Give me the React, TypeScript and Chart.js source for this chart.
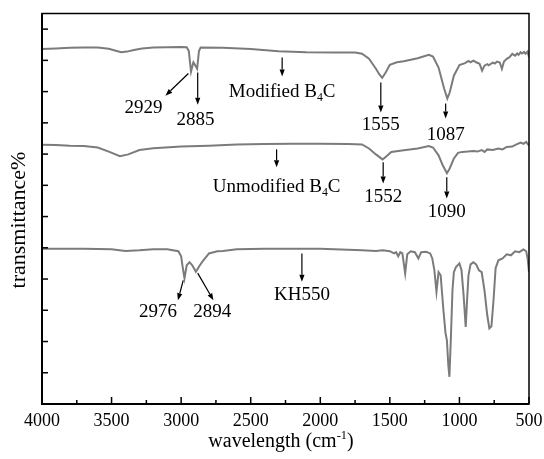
import React, { useEffect, useRef } from 'react';
import { Chart, registerables } from 'chart.js';

Chart.register(...registerables);

// ---------------- data ----------------
const modifiedWavenumber = [
  4000, 3900, 3800, 3700, 3600, 3520, 3470, 3430, 3390, 3340, 3280, 3200, 3100, 3000, 2960, 2945,
  2929, 2912, 2900, 2885, 2872, 2860, 2700, 2500, 2300, 2100, 1900, 1750, 1700, 1650, 1600, 1575,
  1555, 1530, 1500, 1450, 1400, 1300, 1220, 1190, 1150, 1110, 1087, 1070, 1040, 1000, 960, 935,
  920, 900, 880, 855, 837, 820, 800, 790, 760, 745, 730, 710, 695, 680, 660, 640,
  620, 600, 585, 575, 560, 550, 535, 525, 510, 500,
];
const modifiedValues = [
  11.36, 11.38, 11.4, 11.41, 11.41, 11.37, 11.31, 11.26, 11.28, 11.33, 11.38, 11.41, 11.42, 11.43, 11.42, 11.3,
  10.64, 10.94, 10.85, 10.73, 11.3, 11.41, 11.4, 11.36, 11.29, 11.26, 11.25, 11.25, 11.21, 11.05, 10.73, 10.55,
  10.44, 10.61, 10.86, 10.94, 10.97, 11.07, 11.18, 11.12, 10.77, 10.1, 9.78, 9.97, 10.51, 10.85, 10.91, 10.98,
  10.94, 10.99, 10.94, 10.89, 10.67, 10.83, 10.88, 10.84, 10.93, 10.9, 10.96, 10.93, 10.73, 10.96, 11.05, 11.1,
  11.21, 11.15, 11.22, 11.18, 11.26, 11.22, 11.27, 11.21, 11.28, 11.1,
];

const unmodifiedWavenumber = [
  4000, 3900, 3800, 3700, 3600, 3520, 3440, 3380, 3300, 3200, 3000, 2800, 2600, 2400, 2200, 2000,
  1800, 1700, 1650, 1600, 1552, 1520, 1490, 1400, 1300, 1220, 1190, 1150, 1120, 1090, 1070, 1040,
  1010, 980, 940, 900, 870, 840, 820, 800, 760, 720, 690, 660, 620, 590, 560, 540,
  520, 500,
];
const unmodifiedValues = [
  8.3, 8.29, 8.27, 8.26, 8.21, 8.08, 7.93, 7.99, 8.13, 8.19, 8.24, 8.27, 8.31, 8.32, 8.33, 8.33,
  8.32, 8.31, 8.18, 7.99, 7.83, 7.95, 8.07, 8.12, 8.18, 8.26, 8.21, 7.96, 7.64, 7.39, 7.54, 7.86,
  8.04, 8.07, 8.08, 8.1, 8.08, 8.13, 8.07, 8.15, 8.13, 8.18, 8.15, 8.23, 8.24, 8.31, 8.37, 8.33,
  8.39, 8.27,
];

const kh550Wavenumber = [
  4000, 3900, 3700, 3500, 3400, 3300, 3200, 3100, 3020, 3000, 2990, 2976, 2960, 2940, 2920, 2894,
  2870, 2850, 2800, 2740, 2700, 2600, 2400, 2200, 2000, 1800, 1700, 1600, 1550, 1500, 1470, 1455,
  1440, 1425, 1410, 1390, 1375, 1350, 1320, 1295, 1275, 1240, 1210, 1195, 1180, 1165, 1150, 1135,
  1115, 1100, 1090, 1080, 1072, 1062, 1050, 1040, 1025, 1000, 985, 970, 955, 945, 935, 920,
  900, 880, 860, 840, 820, 800, 785, 770, 755, 740, 720, 690, 660, 630, 600, 570,
  540, 520, 510, 500,
];
const kh550Values = [
  4.97, 4.97, 4.97, 4.95, 4.9, 4.92, 4.95, 4.95, 4.89, 4.73, 4.41, 4.02, 4.44, 4.54, 4.44, 4.23,
  4.41, 4.54, 4.82, 4.89, 4.9, 4.95, 4.97, 4.97, 4.97, 4.94, 4.92, 4.9, 4.92, 4.89, 4.82, 4.86,
  4.73, 4.86, 4.82, 4.18, 4.79, 4.89, 4.86, 4.66, 4.86, 4.87, 4.82, 4.66, 4.28, 3.59, 4.22, 4.12,
  3.0, 2.27, 2.04, 1.25, 0.87, 2.04, 3.64, 4.22, 4.38, 4.5, 4.28, 3.48, 2.47, 3.32, 4.12, 4.47,
  4.54, 4.47, 4.28, 4.22, 3.64, 2.84, 2.42, 2.49, 3.32, 4.35, 4.6, 4.66, 4.79, 4.76, 4.89, 4.86,
  4.95, 4.89, 4.66, 4.22,
];

const xTickLabels = ['4000', '3500', '3000', '2500', '2000', '1500', '1000', '500'];
const xMinorTicks = [3750, 3250, 2750, 2250, 1750, 1250, 750];
const yTickValues = [1, 2, 3, 4, 5, 6, 7, 8, 9, 10, 11, 12];

// annotation texts anchored in data coordinates [wavenumber, value]
const noteLabels = [
  { text: '2929', at: [3270, 9.52] },
  { text: '2885', at: [2896, 9.14] },
  { text: 'Modified B', sub: '4', tail: 'C', at: [2274, 10.03] },
  { text: '1555', at: [1565, 8.98] },
  { text: '1087', at: [1099, 8.66] },
  { text: 'Unmodified B', sub: '4', tail: 'C', at: [2314, 7.0] },
  { text: '1552', at: [1548, 6.68] },
  { text: '1090', at: [1091, 6.2] },
  { text: '2976', at: [3167, 3.0] },
  { text: '2894', at: [2776, 3.0] },
  { text: 'KH550', at: [2132, 3.55] },
];
const noteArrows = [
  { from: [2948, 10.58], to: [3113, 9.87] },
  { from: [2881, 10.61], to: [2881, 9.58] },
  { from: [2274, 11.09], to: [2274, 10.48] },
  { from: [1565, 10.29], to: [1565, 9.33] },
  { from: [1099, 9.62], to: [1099, 9.14] },
  { from: [2314, 8.15], to: [2314, 7.58] },
  { from: [1548, 7.74], to: [1548, 7.06] },
  { from: [1091, 7.26], to: [1091, 6.58] },
  { from: [2985, 3.96], to: [3023, 3.32] },
  { from: [2881, 4.19], to: [2768, 3.32] },
  { from: [2132, 4.82], to: [2132, 3.91] },
];

const FONT = '"Liberation Serif", "Times New Roman", serif';

const toPoints = (xs: number[], ys: number[]) => xs.map((x, i) => ({ x, y: ys[i] }));

function drawRich(ctx: CanvasRenderingContext2D, x: number, y: number, size: number, text: string, sub?: string, tail?: string, sup?: boolean) {
  ctx.font = `${size}px ${FONT}`;
  const w1 = ctx.measureText(text).width;
  let w2 = 0;
  let w3 = 0;
  const small = size * 0.62;
  if (sub) {
    ctx.font = `${small}px ${FONT}`;
    w2 = ctx.measureText(sub).width;
  }
  if (tail) {
    ctx.font = `${size}px ${FONT}`;
    w3 = ctx.measureText(tail).width;
  }
  let cx = x - (w1 + w2 + w3) / 2;
  ctx.textAlign = 'left';
  ctx.textBaseline = 'alphabetic';
  ctx.font = `${size}px ${FONT}`;
  ctx.fillText(text, cx, y);
  cx += w1;
  if (sub) {
    ctx.font = `${small}px ${FONT}`;
    ctx.fillText(sub, cx, sup ? y - size * 0.38 : y + size * 0.2);
    cx += w2;
  }
  if (tail) {
    ctx.font = `${size}px ${FONT}`;
    ctx.fillText(tail, cx, y);
  }
}

const decorPlugin = {
  id: 'decor',
  afterDatasetsDraw(chart: any) {
    const { ctx, chartArea: a, scales } = chart;
    const xs = scales.x;
    const ys = scales.y;
    ctx.save();
    ctx.strokeStyle = '#000';
    ctx.fillStyle = '#000';
    // frame
    ctx.lineWidth = 1.5;
    ctx.strokeRect(a.left, a.top, a.right - a.left, a.bottom - a.top);
    ctx.lineWidth = 2;
    ctx.beginPath();
    ctx.moveTo(a.left, a.top);
    ctx.lineTo(a.left, a.bottom);
    ctx.lineTo(a.right, a.bottom);
    ctx.stroke();
    // x ticks (inward)
    ctx.lineWidth = 1.5;
    xTickLabels.forEach((t) => {
      const px = xs.getPixelForValue(Number(t));
      ctx.beginPath();
      ctx.moveTo(px, a.bottom);
      ctx.lineTo(px, a.bottom - 7);
      ctx.stroke();
    });
    xMinorTicks.forEach((v) => {
      const px = xs.getPixelForValue(v);
      ctx.beginPath();
      ctx.moveTo(px, a.bottom);
      ctx.lineTo(px, a.bottom - 4);
      ctx.stroke();
    });
    yTickValues.forEach((v) => {
      const py = ys.getPixelForValue(v);
      ctx.beginPath();
      ctx.moveTo(a.left, py);
      ctx.lineTo(a.left + 6, py);
      ctx.stroke();
    });
    // arrows
    ctx.lineWidth = 1.2;
    noteArrows.forEach(({ from, to }) => {
      const x1 = xs.getPixelForValue(from[0]);
      const y1 = ys.getPixelForValue(from[1]);
      const x2 = xs.getPixelForValue(to[0]);
      const y2 = ys.getPixelForValue(to[1]);
      const ang = Math.atan2(y2 - y1, x2 - x1);
      const hl = 7;
      const hw = 2.6;
      const bx = x2 - hl * Math.cos(ang);
      const by = y2 - hl * Math.sin(ang);
      ctx.beginPath();
      ctx.moveTo(x1, y1);
      ctx.lineTo(bx, by);
      ctx.stroke();
      ctx.beginPath();
      ctx.moveTo(x2, y2);
      ctx.lineTo(bx + hw * Math.sin(ang), by - hw * Math.cos(ang));
      ctx.lineTo(bx - hw * Math.sin(ang), by + hw * Math.cos(ang));
      ctx.closePath();
      ctx.fill();
    });
    // labels
    noteLabels.forEach((n: any) => {
      const px = xs.getPixelForValue(n.at[0]);
      const py = ys.getPixelForValue(n.at[1]);
      drawRich(ctx, px, py + 6.5, 19, n.text, n.sub, n.tail);
    });
    // x title
    drawRich(ctx, 281, 447, 20, 'wavelength (cm', '-1', ')', true);
    // y title
    ctx.save();
    ctx.translate(19, 220);
    ctx.rotate(-Math.PI / 2);
    ctx.font = `22px ${FONT}`;
    ctx.textAlign = 'center';
    ctx.textBaseline = 'middle';
    ctx.fillText('transmittance%', 0, 0);
    ctx.restore();
    ctx.restore();
  },
};

export default function App() {
  const ref = useRef<HTMLCanvasElement | null>(null);
  useEffect(() => {
    if (!ref.current) return;
    const lineStyle = { borderColor: '#7b7b7b', borderWidth: 2, pointRadius: 0, fill: false, tension: 0 };
    const chart = new Chart(ref.current, {
      type: 'line',
      data: {
        datasets: [
          { label: 'Modified B4C', data: toPoints(modifiedWavenumber, modifiedValues), ...lineStyle },
          { label: 'Unmodified B4C', data: toPoints(unmodifiedWavenumber, unmodifiedValues), ...lineStyle },
          { label: 'KH550', data: toPoints(kh550Wavenumber, kh550Values), ...lineStyle },
        ],
      },
      options: {
        responsive: false,
        animation: false,
        layout: { padding: { left: 42, right: 15, top: 13.5, bottom: 0 } },
        plugins: { legend: { display: false }, tooltip: { enabled: false } },
        scales: {
          x: {
            type: 'linear',
            reverse: true,
            min: 500,
            max: 4000,
            grid: { display: false, drawTicks: false },
            border: { display: false },
            afterFit: (s: any) => {
              s.height = 55;
              s.paddingLeft = 0;
              s.paddingRight = 0;
            },
            afterBuildTicks: (s: any) => {
              s.ticks = xTickLabels.map((t) => ({ value: Number(t) }));
            },
            ticks: {
              autoSkip: false,
              maxRotation: 0,
              minRotation: 0,
              padding: 6,
              color: '#000',
              font: { family: FONT, size: 18 },
              callback: (v: any) => String(v),
            },
          },
          y: {
            type: 'linear',
            display: false,
            min: 0,
            max: 12.5,
          },
        },
      },
      plugins: [decorPlugin],
    });
    return () => chart.destroy();
  }, []);
  return (
    <div style={{ position: 'absolute', left: 0, top: 0, width: 544, height: 459, background: '#fff' }}>
      <canvas ref={ref} width={544} height={459} style={{ display: 'block' }} />
    </div>
  );
}
